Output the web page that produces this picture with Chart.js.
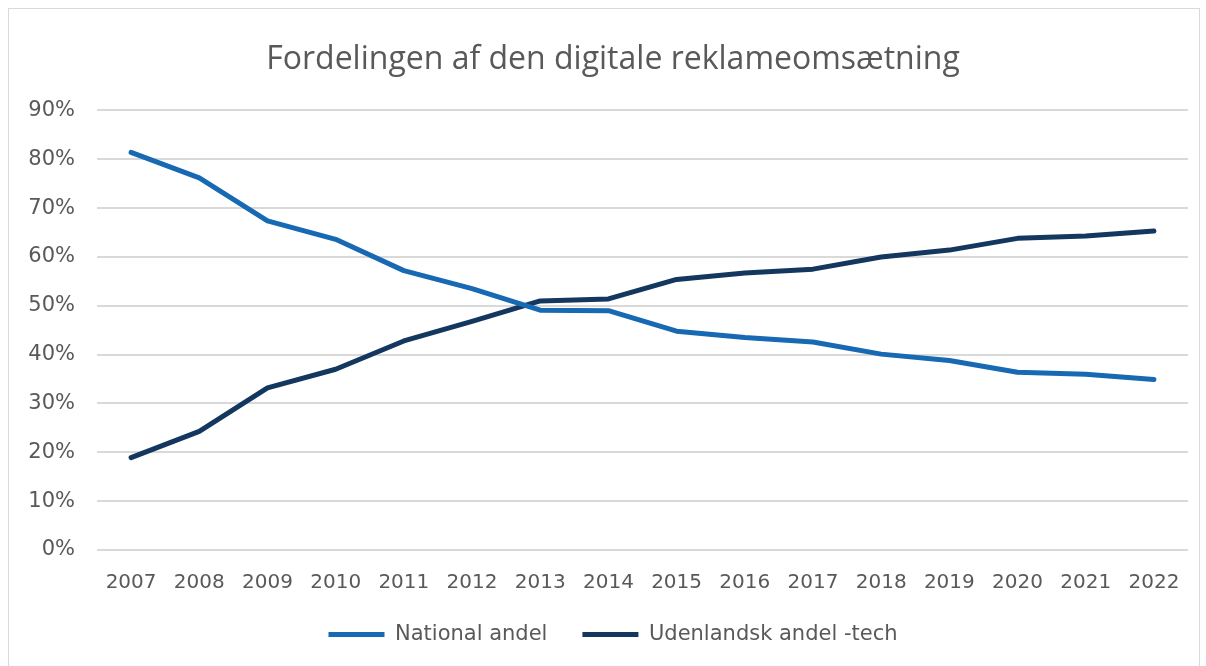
<!DOCTYPE html>
<html>
<head>
<meta charset="utf-8">
<script src="https://cdn.jsdelivr.net/npm/chart.js@4.4.1/dist/chart.umd.min.js"></script>
<style>
  html, body { margin: 0; padding: 0; background: #ffffff; }
  #wrap { position: relative; width: 1206px; height: 666px; overflow: hidden; }
  #frame { position: absolute; left: 8px; top: 8px; width: 1190px; height: 680px; border: 1px solid #d9d9d9; }
  canvas { position: absolute; left: 0; top: 0; }
</style>
</head>
<body>
<div id="wrap">
  <div id="frame"></div>
  <canvas id="chart" width="1206" height="666"></canvas>
</div>
<script>
// years on the x axis
const years = ['2007', '2008', '2009', '2010', '2011', '2012', '2013', '2014',
               '2015', '2016', '2017', '2018', '2019', '2020', '2021', '2022'];

// shares in percent
const nationalAndel = [81.4, 76.2, 67.4, 63.6, 57.2, 53.5, 49.1, 49.0,
                       44.8, 43.5, 42.6, 40.1, 38.8, 36.4, 36.0, 34.9];
const udenlandskAndel = [18.9, 24.3, 33.2, 37.0, 42.8, 46.8, 51.0, 51.4,
                         55.4, 56.7, 57.5, 60.0, 61.4, 63.8, 64.3, 65.3];

const yTicks = [0, 10, 20, 30, 40, 50, 60, 70, 80, 90];

const textGrey = '#595959';

// scales clip their labels to their own box; widen the boxes after layout
// so the y labels can reach into the left padding
const unclipLabels = {
  id: 'unclipLabels',
  afterLayout(chart) {
    chart.scales.y.left = 0;
    chart.scales.x.bottom = chart.height;
  }
};

const ctx = document.getElementById('chart').getContext('2d');
new Chart(ctx, {
  type: 'line',
  data: {
    labels: years,
    datasets: [
      {
        label: 'National andel',
        data: nationalAndel,
        borderColor: '#1769b3',
        backgroundColor: '#1769b3',
        borderWidth: 5,
        borderCapStyle: 'round',
        borderJoinStyle: 'round',
        pointRadius: 0,
        tension: 0
      },
      {
        label: 'Udenlandsk andel -tech',
        data: udenlandskAndel,
        borderColor: '#14375f',
        backgroundColor: '#14375f',
        borderWidth: 5,
        borderCapStyle: 'round',
        borderJoinStyle: 'round',
        pointRadius: 0,
        tension: 0
      }
    ]
  },
  plugins: [unclipLabels],
  options: {
    responsive: false,
    animation: false,
    // left padding keeps title and legend centred like the original
    layout: { padding: { left: 38, right: 18, top: 14, bottom: 11 } },
    plugins: {
      title: {
        display: true,
        text: 'Fordelingen af den digitale reklameomsætning',
        color: textGrey,
        font: { family: 'Open Sans', size: 32, weight: 'normal' },
        padding: { top: 27, bottom: 31 }
      },
      legend: {
        position: 'bottom',
        labels: {
          color: textGrey,
          font: { family: 'DejaVu Sans', size: 21 },
          usePointStyle: true,
          pointStyleWidth: 56,
          pointStyle: 'line',
          padding: 35
        }
      },
      tooltip: { enabled: false }
    },
    scales: {
      x: {
        offset: true,
        afterFit: (scale) => { scale.height = 39; },
        grid: { display: false },
        border: { display: false },
        ticks: {
          color: textGrey,
          font: { family: 'DejaVu Sans', size: 20 },
          padding: 13,
          maxRotation: 0
        }
      },
      y: {
        min: 0,
        max: 90,
        afterFit: (scale) => { scale.width = 59; },
        afterBuildTicks: (scale) => { scale.ticks = yTicks.map(v => ({ value: v })); },
        grid: { color: '#d9d9d9', lineWidth: 2, drawTicks: false },
        border: { display: false },
        ticks: {
          color: textGrey,
          font: { family: 'DejaVu Sans', size: 21 },
          padding: 22,
          callback: (v) => v + '%'
        }
      }
    }
  }
});
</script>
</body>
</html>
